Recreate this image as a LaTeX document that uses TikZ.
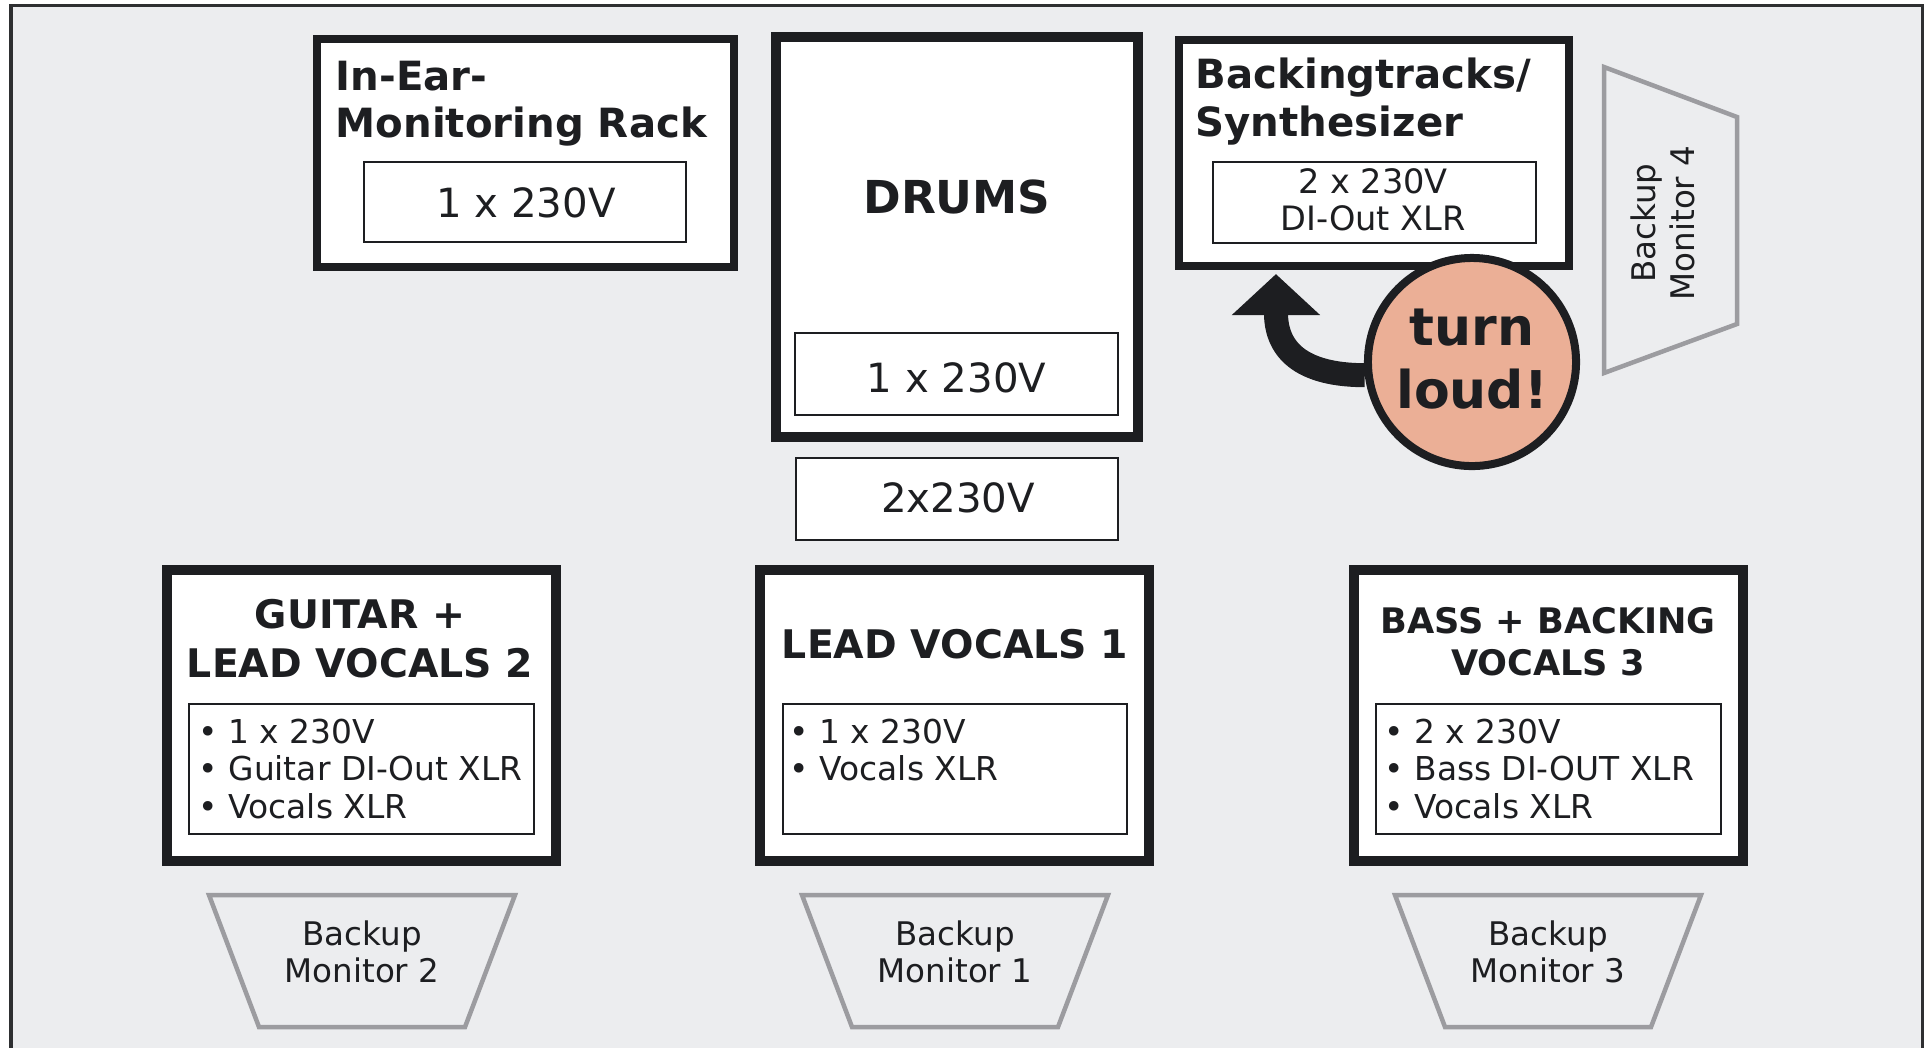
\documentclass[tikz,border=0pt]{standalone}
\usepackage{fontspec}
\setmainfont{DejaVu Sans}
\usetikzlibrary{arrows.meta,calc,positioning}

\definecolor{stagebg}{HTML}{ECEDEF}
\definecolor{ink}{HTML}{1D1E21}
\definecolor{framegray}{HTML}{2E2F31}
\definecolor{mongray}{HTML}{9C9CA0}
\definecolor{loudfill}{HTML}{EBAF96}
\newcommand\stagefont[1]{\fontsize{#1}{#1}\selectfont}

\tikzset{
  bigbox/.style={draw=ink, fill=white, line width=0.08cm, inner sep=0},
  heavybox/.style={bigbox, line width=0.1cm},
  smallbox/.style={draw=ink, fill=white, line width=0.02cm, inner sep=0},
  monitor/.style={draw=mongray, line width=0.045cm, line join=miter},
  txt/.style={inner sep=0, text=ink, font={\stagefont{11.45}}},
  title/.style={txt, font={\bfseries\stagefont{11.45}}},
  bandtitle/.style={txt, font={\bfseries\stagefont{11.2}}},
  listtxt/.style={txt, anchor=base west, font={\stagefont{9.35}}},
  montxt/.style={txt, anchor=base, font={\stagefont{9.25}}},
  loud/.style={circle, draw=ink, fill=loudfill, line width=0.08cm, inner sep=0},
  bigarrow/.style={draw=ink, line width=0.24cm, -{Triangle[length=0.41cm, width=0.86cm]}}
}

\begin{document}
\begin{tikzpicture}[x=0.01cm, y=-0.01cm]
		%%%%% FRAME %%%%%
		\useasboundingbox (0,0) rectangle (1927,1047);
		\fill[white] (0,0) rectangle (1927,1047);
		\draw[framegray, fill=stagebg, line width=0.03cm] (11,1080) -- (11,5.5) -- (1922,5.5) -- (1922,1080);
		
		%%%%% TOP ROW %%%%%
		\node[bigbox, minimum width=4.17cm, minimum height=2.28cm] (inear) at (525.5,153) {};
		\node[title, anchor=base west] (inear-t1) at (335,90) {In-Ear-};
		\node[title, anchor=base west] (inear-t2) at (335,137) {Monitoring Rack};
		\node[smallbox, minimum width=3.22cm, minimum height=0.80cm] (inear-pwr) at (525,202) {};
		\node[txt, anchor=base] (inear-v) at (526,217) {1 x 230V};
		
		\node[heavybox, minimum width=3.62cm, minimum height=4.00cm] (drums) at (957,237) {};
		\node[txt, anchor=base, font={\bfseries\stagefont{12.9}}] (drums-t) at (957,213) {DRUMS};
		\node[smallbox, minimum width=3.23cm, minimum height=0.82cm] (drums-pwr) at (956.5,374) {};
		\node[txt, anchor=base] (drums-v) at (956.5,392) {1 x 230V};
		\node[smallbox, minimum width=3.22cm, minimum height=0.82cm] (spare-pwr) at (957,499) {};
		\node[txt, anchor=base] (spare-v) at (958,512.5) {2x230V};
		
		\node[bigbox, minimum width=3.90cm, minimum height=2.26cm] (backing) at (1374,153) {};
		\node[title, anchor=base west] (backing-t1) at (1195,88) {Backingtracks/};
		\node[title, anchor=base west] (backing-t2) at (1195,136) {Synthesizer};
		\node[smallbox, minimum width=3.23cm, minimum height=0.81cm] (backing-pwr) at (1374.5,202.5) {};
		\node[txt, anchor=base, font={\stagefont{9.55}}] (backing-v1) at (1373,193) {2 x 230V};
		\node[txt, anchor=base, font={\stagefont{9.55}}] (backing-v2) at (1373,230) {DI-Out XLR};
		
		% side monitor
		\draw[monitor] (1604,67) -- (1737,117) -- (1737,324) -- (1604,373) -- cycle;
		\node[montxt, rotate=90] (mon-4a) at (1655,223) {Backup};
		\node[montxt, rotate=90] (mon-4b) at (1694,223) {Monitor 4};
		
		% warning
		\node[loud, minimum size=2.08cm] (loud) at (1472,362) {};
		\draw[bigarrow] (loud.187) .. controls +(-50,0) and +(0,85) .. ([xshift=1.01cm, yshift=-0.04cm]backing.south west);
		\node[txt, anchor=base, font={\bfseries\stagefont{14.8}}] (loud-1) at (1472,345) {turn};
		\node[txt, anchor=base, font={\bfseries\stagefont{14.8}}] (loud-2) at (1472,408) {loud!};
		
		%%%%% BOTTOM ROW %%%%%
		\node[heavybox, minimum width=3.89cm, minimum height=2.91cm] (guitar) at (361.5,715.5) {};
		\node[bandtitle, anchor=base] (guitar-t1) at (360,628) {GUITAR +};
		\node[bandtitle, anchor=base] (guitar-t2) at (360,677) {LEAD VOCALS 2};
		\node[smallbox, minimum width=3.44cm, minimum height=1.30cm] (guitar-list) at (361.5,769) {};
		\node[listtxt] (guitar-1) at (198,743) {• 1 x 230V};
		\node[listtxt] (guitar-2) at (198,780) {• Guitar DI-Out XLR};
		\node[listtxt] (guitar-3) at (198,818) {• Vocals XLR};
		
		\node[heavybox, minimum width=3.89cm, minimum height=2.91cm] (lead) at (954.5,715.5) {};
		\node[bandtitle, anchor=base] (lead-t) at (955,658) {LEAD VOCALS 1};
		\node[smallbox, minimum width=3.44cm, minimum height=1.30cm] (lead-list) at (955,769) {};
		\node[listtxt] (lead-1) at (789,743) {• 1 x 230V};
		\node[listtxt] (lead-2) at (789,780) {• Vocals XLR};
		
		\node[heavybox, minimum width=3.89cm, minimum height=2.91cm] (bass) at (1548.5,715.5) {};
		\node[bandtitle, anchor=base, font={\bfseries\stagefont{10.0}}] (bass-t1) at (1548,633) {BASS + BACKING};
		\node[bandtitle, anchor=base, font={\bfseries\stagefont{10.0}}] (bass-t2) at (1548,675) {VOCALS 3};
		\node[smallbox, minimum width=3.45cm, minimum height=1.30cm] (bass-list) at (1548.5,769) {};
		\node[listtxt] (bass-1) at (1384,743) {• 2 x 230V};
		\node[listtxt] (bass-2) at (1384,780) {• Bass DI-OUT XLR};
		\node[listtxt] (bass-3) at (1384,818) {• Vocals XLR};
		
		% floor monitors
		\foreach \cx/\n in {362/2, 955/1, 1548/3} {
			\draw[monitor] (\cx-153,895) -- (\cx+153,895) -- (\cx+103,1027) -- (\cx-103,1027) -- cycle;
			\node[montxt] (mon-\n a) at (\cx,945) {Backup};
			\node[montxt] (mon-\n b) at (\cx,982) {Monitor \n};
		}
		%%%%% END %%%%%
\end{tikzpicture}
\end{document}
